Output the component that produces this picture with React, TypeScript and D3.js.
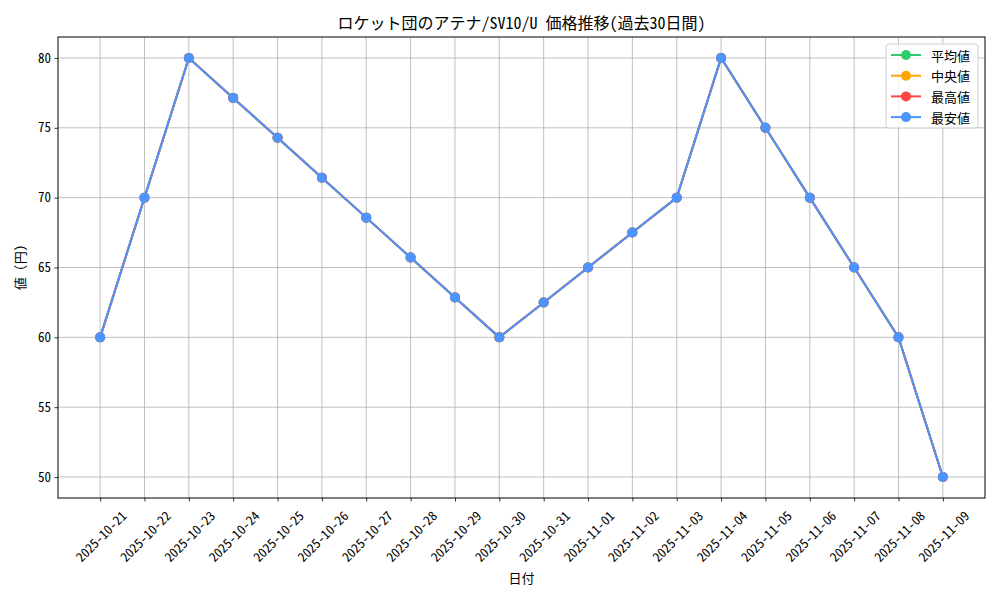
import React, { useEffect, useRef } from 'react';
import * as d3 from 'd3';

const dates = [
  '2025-10-21', '2025-10-22', '2025-10-23', '2025-10-24', '2025-10-25',
  '2025-10-26', '2025-10-27', '2025-10-28', '2025-10-29', '2025-10-30',
  '2025-10-31', '2025-11-01', '2025-11-02', '2025-11-03', '2025-11-04',
  '2025-11-05', '2025-11-06', '2025-11-07', '2025-11-08', '2025-11-09',
];

const avgPrices = [60, 70, 80, 77.14, 74.29, 71.43, 68.57, 65.71, 62.86, 60, 62.5, 65, 67.5, 70, 80, 75, 70, 65, 60, 50];
const medianPrices = [60, 70, 80, 77.14, 74.29, 71.43, 68.57, 65.71, 62.86, 60, 62.5, 65, 67.5, 70, 80, 75, 70, 65, 60, 50];
const maxPrices = [60, 70, 80, 77.14, 74.29, 71.43, 68.57, 65.71, 62.86, 60, 62.5, 65, 67.5, 70, 80, 75, 70, 65, 60, 50];
const minPrices = [60, 70, 80, 77.14, 74.29, 71.43, 68.57, 65.71, 62.86, 60, 62.5, 65, 67.5, 70, 80, 75, 70, 65, 60, 50];

const seriesNames = ['平均値', '中央値', '最高値', '最安値'];
const seriesColors = ['#2ECC71', '#FFA500', '#FF4444', '#4D94FF'];
const yTicks = [50, 55, 60, 65, 70, 75, 80];

const FONT = '"Noto Sans Mono CJK JP", "Noto Sans CJK JP", "DejaVu Sans", sans-serif';

export default function App() {
  const svgRef = useRef<SVGSVGElement>(null);

  useEffect(() => {
    if (!svgRef.current) return;
    const svg = d3.select(svgRef.current);
    svg.selectAll('*').remove();

    const left = 58, right = 985, top = 37, bottom = 498;
    const allSeries = [avgPrices, medianPrices, maxPrices, minPrices];

    const x = d3.scaleLinear().domain([-0.95, dates.length - 1 + 0.95]).range([left, right]);
    const y = d3.scaleLinear().domain([48.5, 81.5]).range([bottom, top]);

    svg.append('rect')
      .attr('width', 1000).attr('height', 600).attr('fill', '#fff');

    // grid
    const grid = svg.append('g').attr('stroke', '#b0b0b0').attr('stroke-width', 0.8);
    dates.forEach((_, i) => {
      grid.append('line')
        .attr('x1', x(i)).attr('x2', x(i)).attr('y1', top).attr('y2', bottom);
    });
    yTicks.forEach(t => {
      grid.append('line')
        .attr('x1', left).attr('x2', right).attr('y1', y(t)).attr('y2', y(t));
    });

    // x axis
    const xAxis = svg.append('g')
      .attr('transform', `translate(0,${bottom})`)
      .call(d3.axisBottom(x)
        .tickValues(d3.range(dates.length))
        .tickSize(3.5)
        .tickSizeOuter(0)
        .tickFormat(i => dates[i as number]));
    xAxis.select('.domain').remove();
    xAxis.selectAll('.tick line').attr('stroke', '#000').attr('stroke-width', 0.8);
    xAxis.selectAll('.tick text')
      .attr('y', null).attr('dy', null)
      .attr('fill', '#000')
      .style('font-family', FONT)
      .style('font-size', '13px')
      .attr('text-anchor', 'middle')
      .attr('dominant-baseline', 'central')
      .attr('transform', 'translate(0,38) rotate(-45)');

    // y axis
    const yAxis = svg.append('g')
      .attr('transform', `translate(${left},0)`)
      .call(d3.axisLeft(y).tickValues(yTicks).tickSize(3.5).tickSizeOuter(0));
    yAxis.select('.domain').remove();
    yAxis.selectAll('.tick line').attr('stroke', '#000').attr('stroke-width', 0.8);
    yAxis.selectAll('.tick text')
      .attr('x', -7)
      .attr('fill', '#000')
      .style('font-family', FONT)
      .style('font-size', '13px');

    // frame
    svg.append('rect')
      .attr('x', left).attr('y', top)
      .attr('width', right - left).attr('height', bottom - top)
      .attr('fill', 'none').attr('stroke', '#000').attr('stroke-width', 1);

    // lines
    const line = d3.line<number>().x((_, i) => x(i)).y(d => y(d));
    allSeries.forEach((vals, si) => {
      svg.append('path')
        .datum(vals)
        .attr('d', line)
        .attr('fill', 'none')
        .attr('stroke', seriesColors[si])
        .attr('stroke-width', 2);
      svg.append('g')
        .selectAll('circle')
        .data(vals)
        .enter()
        .append('circle')
        .attr('cx', (_, i) => x(i))
        .attr('cy', d => y(d))
        .attr('r', 5)
        .attr('fill', seriesColors[si]);
    });

    // title and labels
    svg.append('text')
      .attr('x', (left + right) / 2).attr('y', 29)
      .attr('text-anchor', 'middle')
      .style('font-family', FONT).style('font-size', '16px')
      .text('ロケット団のアテナ/SV10/U 価格推移(過去30日間)');

    svg.append('text')
      .attr('x', (left + right) / 2).attr('y', 583)
      .attr('text-anchor', 'middle')
      .style('font-family', FONT).style('font-size', '13px')
      .text('日付');

    svg.append('text')
      .attr('transform', `translate(25,${(top + bottom) / 2}) rotate(-90)`)
      .attr('text-anchor', 'middle')
      .style('font-family', FONT).style('font-size', '13px')
      .text('値 (円)');

    // legend
    const lg = svg.append('g').attr('transform', 'translate(886,44)');
    lg.append('rect')
      .attr('width', 92).attr('height', 84).attr('rx', 3)
      .attr('fill', 'rgba(255,255,255,0.8)')
      .attr('stroke', '#d0d0d0');
    seriesNames.forEach((name, i) => {
      const cy = 11 + i * 20.7;
      lg.append('line')
        .attr('x1', 5).attr('x2', 35).attr('y1', cy).attr('y2', cy)
        .attr('stroke', seriesColors[i]).attr('stroke-width', 2);
      lg.append('circle')
        .attr('cx', 20).attr('cy', cy).attr('r', 5).attr('fill', seriesColors[i]);
      lg.append('text')
        .attr('x', 45).attr('y', cy)
        .attr('dominant-baseline', 'central')
        .style('font-family', FONT).style('font-size', '13px')
        .text(name);
    });
  }, []);

  return (
    <svg
      ref={svgRef}
      width={1000}
      height={600}
      style={{ position: 'absolute', left: 0, top: 0 }}
    />
  );
}
